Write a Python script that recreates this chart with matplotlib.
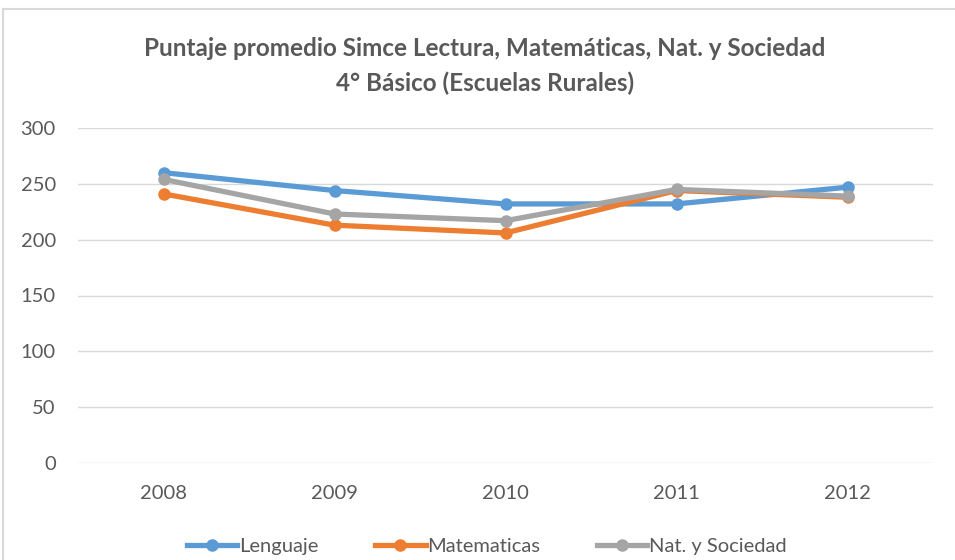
import matplotlib
matplotlib.use("Agg")
import matplotlib.pyplot as plt
from matplotlib.lines import Line2D

years = ["2008", "2009", "2010", "2011", "2012"]
lenguaje = [260, 244, 232, 232, 247]
matematicas = [241, 213, 206, 244, 238]
naturaleza = [254, 223, 217, 245, 239]

series = [
    ("Lenguaje", lenguaje, "#5B9BD5"),
    ("Matematicas", matematicas, "#ED7D31"),
    ("Nat. y Sociedad", naturaleza, "#A5A5A5"),
]

plt.rcParams['font.family'] = ['Lato', 'DejaVu Sans']
txt = "#595959"

fig = plt.figure(figsize=(9.55, 5.6), dpi=100)
ax = fig.add_axes([78/955, 1-463/560, (933-78)/955, (463-128)/560])

x = range(len(years))
for name, vals, col in series:
    ax.plot(x, vals, color=col, lw=3.8, marker='o', ms=8,
            solid_capstyle='round', solid_joinstyle='round', label=name, zorder=3)

ax.set_xlim(-0.5, len(years) - 0.5)
ax.set_ylim(0, 300)
ax.set_yticks(range(0, 301, 50))
ax.set_xticks(list(x))
ax.set_xticklabels(years)
ax.grid(axis='y', color='#D9D9D9', lw=1)
ax.set_axisbelow(True)
for s in ax.spines.values():
    s.set_visible(False)
ax.tick_params(length=0, labelsize=14.5, colors=txt)
ax.tick_params(axis='x', pad=16)
ax.tick_params(axis='y', pad=16)

fig.text(0.508, 1-49/560, "Puntaje promedio Simce Lectura, Matemáticas, Nat. y Sociedad",
         ha='center', va='center', fontsize=17.5, fontweight='bold', color=txt)
fig.text(0.508, 1-83/560, "4° Básico (Escuelas Rurales)",
         ha='center', va='center', fontsize=17.5, fontweight='bold', color=txt)

handles = [Line2D([], [], color=c, lw=3.8, marker='o', ms=8) for _, _, c in series]
fig.legend(handles, [n for n, _, _ in series], loc='center', bbox_to_anchor=(0.510, 1-546/560),
           ncol=3, frameon=False, fontsize=14.5, handlelength=2.5, handletextpad=0.1,
           columnspacing=2.8, labelcolor=txt)

# chart border (only left and top visible in the crop)
fig.add_artist(Line2D([3/955, 3/955], [0, 1-9/560], color='#D9D9D9', lw=1.5))
fig.add_artist(Line2D([3/955, 1], [1-9/560, 1-9/560], color='#D9D9D9', lw=1.5))

fig.savefig("out.png", dpi=100, facecolor='white')
